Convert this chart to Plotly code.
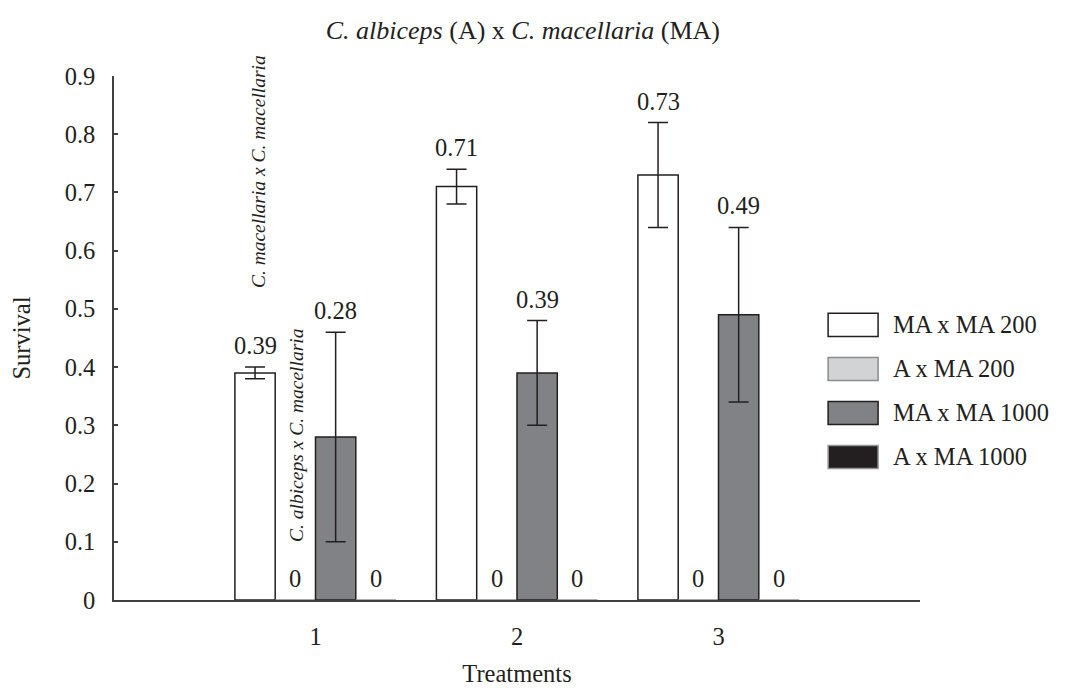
import plotly.graph_objects as go

# ---- data ----
categories = [1, 2, 3]
series_names = ["MA x MA 200", "A x MA 200", "MA x MA 1000", "A x MA 1000"]
ma_ma_200 = [0.39, 0.71, 0.73]
ma_ma_200_err = [0.01, 0.03, 0.09]
a_ma_200 = [0, 0, 0]
ma_ma_1000 = [0.28, 0.39, 0.49]
ma_ma_1000_err = [0.18, 0.09, 0.15]
a_ma_1000 = [0, 0, 0]
value_labels = {
    "MA x MA 200": ["0.39", "0.71", "0.73"],
    "A x MA 200": ["0", "0", "0"],
    "MA x MA 1000": ["0.28", "0.39", "0.49"],
    "A x MA 1000": ["0", "0", "0"],
}
y_ticks = [0, 0.1, 0.2, 0.3, 0.4, 0.5, 0.6, 0.7, 0.8, 0.9]
y_ticktext = ["0", "0.1", "0.2", "0.3", "0.4", "0.5", "0.6", "0.7", "0.8", "0.9"]

values = [ma_ma_200, a_ma_200, ma_ma_1000, a_ma_1000]
errors = [ma_ma_200_err, None, ma_ma_1000_err, None]

# ---- style ----
FONT = "Liberation Serif"
FS = 24.5
fills = ["#ffffff", "#d1d3d4", "#808285", "#231f20"]
edges = ["#231f20", "#8a8c8e", "#231f20", "#939598"]
BAR_W = 0.2

fig = go.Figure()
annotations = []
for i, (name, vals, err) in enumerate(zip(series_names, values, errors)):
    offset = -0.4 + BAR_W * i
    kw = {}
    if err is not None:
        kw["error_y"] = dict(type="data", array=err, visible=True,
                             color="#231f20", thickness=1.5, width=10)
    fig.add_trace(go.Bar(
        x=categories, y=vals, name=name, width=BAR_W, offset=offset,
        marker=dict(color=fills[i], line=dict(color=edges[i], width=1.5)),
        showlegend=False, **kw))
    for j, c in enumerate(categories):
        top = vals[j] + (err[j] if err is not None else 0)
        annotations.append(dict(
            x=c + offset + BAR_W / 2, y=top, xref="x", yref="y",
            text=value_labels[name][j], showarrow=False,
            yanchor="bottom", yshift=6,
            font=dict(family=FONT, size=FS, color="#231f20")))

# rotated species labels
annotations.append(dict(
    x=categories[0] - 0.3, y=0.735, xref="x", yref="y", xshift=3,
    text="<i>C. macellaria x C. macellaria</i>", textangle=-90,
    showarrow=False, font=dict(family=FONT, size=19.5, color="#231f20")))
annotations.append(dict(
    x=categories[0] - 0.1, y=0.284, xref="x", yref="y", xshift=1,
    text="<i>C. albiceps x C. macellaria</i>", textangle=-90,
    showarrow=False, font=dict(family=FONT, size=19.5, color="#231f20")))

# custom legend (large swatches)
shapes = []
leg_y = [0.525, 0.441, 0.357, 0.273]
for i, name in enumerate(series_names):
    shapes.append(dict(type="rect", xref="paper", yref="paper",
                       x0=0.886, x1=0.948, y0=leg_y[i] - 0.022, y1=leg_y[i] + 0.022,
                       fillcolor=fills[i], line=dict(color=edges[i], width=1.5)))
    annotations.append(dict(x=0.964, y=leg_y[i], xref="paper", yref="paper",
                            text=name, showarrow=False,
                            xanchor="left", yanchor="middle",
                            font=dict(family=FONT, size=FS, color="#231f20")))

fig.update_layout(
    width=1066, height=684,
    margin=dict(l=106, r=154, t=68, b=92, autoexpand=False),
    paper_bgcolor="white", plot_bgcolor="white",
    font=dict(family=FONT, size=FS, color="#231f20"),
    barmode="overlay",
    title=dict(text="<i>C. albiceps</i> (A) x <i>C. macellaria</i> (MA)",
               x=0.483, xanchor="center", y=0.968, yanchor="middle",
               font=dict(family=FONT, size=26, color="#231f20")),
    annotations=annotations, shapes=shapes,
)
fig.update_xaxes(
    range=[0, 4], tickvals=categories, ticktext=[str(c) for c in categories],
    showline=True, linecolor="#404040", linewidth=1.5, ticks="",
    showgrid=False, zeroline=False, ticklabelstandoff=14,
    title=dict(text="Treatments", standoff=16, font=dict(family=FONT, size=FS)),
    tickfont=dict(family=FONT, size=FS))
fig.update_yaxes(
    range=[0, 0.9], tickvals=y_ticks, ticktext=y_ticktext,
    showline=True, linecolor="#404040", linewidth=1.5,
    ticks="inside", ticklen=4, tickwidth=1.5, tickcolor="#404040",
    showgrid=False, zeroline=False, ticklabelstandoff=12,
    title=dict(text="Survival", standoff=28, font=dict(family=FONT, size=FS)),
    tickfont=dict(family=FONT, size=FS))

fig.write_html("out.html")
